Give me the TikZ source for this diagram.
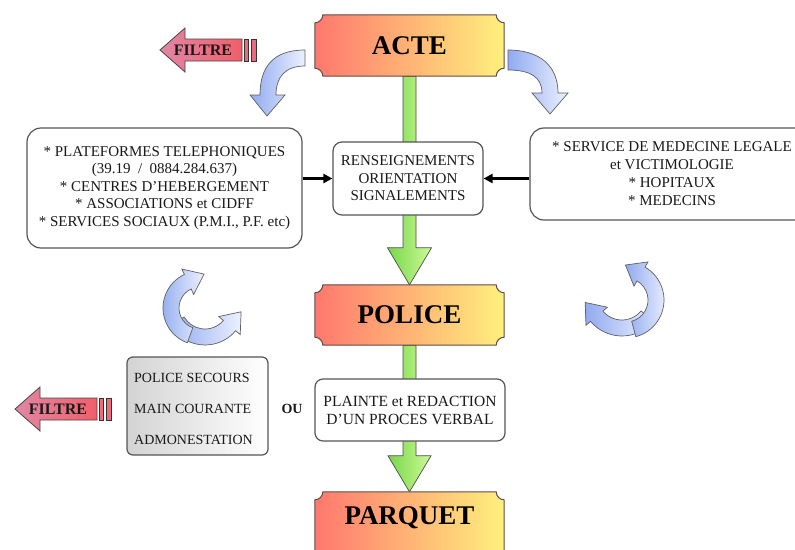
\documentclass[tikz,border=0pt]{standalone}
\usepackage{fontspec}
\setmainfont{Liberation Serif}
\usetikzlibrary{calc,arrows.meta,backgrounds}
\definecolor{plaqueL}{RGB}{255,120,110}
\definecolor{plaqueM}{RGB}{255,185,120}
\definecolor{plaqueR}{RGB}{255,240,125}
\definecolor{greenL}{RGB}{120,215,75}
\definecolor{greenR}{RGB}{205,250,150}
\definecolor{blueD}{RGB}{145,170,240}
\definecolor{blueL}{RGB}{236,241,255}
\definecolor{pinkH}{RGB}{225,135,165}
\definecolor{redB}{RGB}{240,95,105}
\definecolor{boxline}{RGB}{85,85,85}
\definecolor{txt}{RGB}{25,25,25}
\newcommand\plaquepath[1]{($(#1.north west)+(8,0)$) -- ($(#1.north east)+(-8,0)$) arc[start angle=180,end angle=90,radius=8] -- ($(#1.south east)+(0,-8)$) arc[start angle=270,end angle=180,radius=8] -- ($(#1.south west)+(8,0)$) arc[start angle=0,end angle=-90,radius=8] -- ($(#1.north west)+(0,8)$) arc[start angle=90,end angle=0,radius=8] -- cycle}
% curl arrow: cx, cy, mid radius, half width, start angle, end angle, direction (+90/-90)
\newcommand\curlarrow[7]{%
  \pgfmathsetmacro\crO{#3+#4}\pgfmathsetmacro\crI{#3-#4}%
  \pgfmathsetmacro\crHo{#3+14}\pgfmathsetmacro\crHi{#3-14}%
  \pgfmathsetmacro\crT{#6+#7}%
  \coordinate (cc) at (#1,#2);
  \path[bluecurl] ($(cc)+(#5:\crO)$) arc[start angle=#5,end angle=#6,radius=\crO]
    -- ($(cc)+(#6:\crHo)$) -- ($(cc)+(#6:#3)+(\crT:18)$) -- ($(cc)+(#6:\crHi)$)
    -- ($(cc)+(#6:\crI)$) arc[start angle=#6,end angle=#5,radius=\crI] -- cycle;}
\newcommand\filtreshape[2]{%
  \begin{scope}[shift={(#1,#2)}]
    \path[filtrefill] (0,0) -- (25,-22) -- (25,-11) -- (82,-11) -- (82,11) -- (25,11) -- (25,22) -- cycle;
    \path[filtrebar] (84,-11) rectangle (88,11);
    \path[filtrebar] (91,-11) rectangle (96,11);
  \end{scope}}
\begin{document}
\begin{tikzpicture}[x=1pt,y=-1pt,
  box/.style={draw=boxline, line width=1.2pt, fill=white, rounded corners=#1, align=center,
    text=txt, font=\fontsize{15}{17.5}\selectfont, inner sep=0pt},
  box/.default=8pt,
  bodytext/.style={text=txt, font=\fontsize{14}{16}\selectfont, inner sep=0pt},
  plaque/.style={inner sep=0pt, font=\fontsize{27}{30}\selectfont\bfseries, text=black},
  plaquefill/.style={left color=plaqueL, middle color=plaqueM, right color=plaqueR,
    draw={rgb,255:red,95;green,75;blue,75}, line width=1pt},
  greenarrow/.style={left color=greenL, right color=greenR, draw=gray!60!black, line width=0.7pt},
  bluecurl/.style={left color=blueD, right color=blueL, draw=gray!75!black, line width=0.7pt},
  filtrefill/.style={left color=pinkH, right color=redB, draw=gray!55!black, line width=0.8pt},
  filtrebar/.style={fill=redB!70!pinkH, draw=gray!40!black, line width=0.8pt},
  filtretext/.style={font=\fontsize{16}{18}\selectfont\bfseries, text=black!90, inner sep=0pt},
  conn/.style={-{Triangle[length=9pt,width=9pt]}, line width=2.6pt, black}]
\useasboundingbox (0,0) rectangle (795,549);

% plaques (text)
\node[plaque, minimum width=189pt, minimum height=61pt] (acte) at (409.5,45.5) {ACTE};
\node[plaque, minimum width=189pt, minimum height=60pt] (police) at (409.5,315) {POLICE};
\node[plaque, minimum width=189pt, minimum height=52pt] (parquet) at (409.5,518) {PARQUET};
\node[inner sep=0pt, minimum width=189pt, minimum height=73pt] (parquetbox) at (409.5,528.5) {};

% boxes
\node[box=14pt, minimum width=275pt, minimum height=120pt] (left) at (164.5,188)
  {* PLATEFORMES TELEPHONIQUES\\(39.19 \ / \ 0884.284.637)\\* CENTRES D'HEBERGEMENT\\* ASSOCIATIONS et CIDFF\\* SERVICES SOCIAUX (P.M.I., P.F. etc)};
\node[box=9pt, minimum width=150pt, minimum height=73pt] (mid) at (408,178.5)
  {RENSEIGNEMENTS\\ORIENTATION\\SIGNALEMENTS};
\node[box=14pt, minimum width=284pt, minimum height=92pt, font=\fontsize{15}{18}\selectfont] (right) at (672,174)
  {* SERVICE DE MEDECINE LEGALE\\et VICTIMOLOGIE\\* HOPITAUX\\* MEDECINS};
\node[box=6pt, minimum width=141pt, minimum height=98pt, left color=black!17, right color=white] (secours) at (197.5,406) {};
\node[bodytext, anchor=west] (ps1) at (134,378) {POLICE SECOURS};
\node[bodytext, anchor=west] (ps2) at (134,409) {MAIN COURANTE};
\node[bodytext, anchor=west] (ps3) at (134,440) {ADMONESTATION};
\node[font=\fontsize{14}{16}\selectfont\bfseries, text=txt] (ou) at (292,409) {OU};
\node[box=8pt, minimum width=190pt, minimum height=62pt, font=\fontsize{15.5}{18}\selectfont] (plainte) at (410,410)
  {PLAINTE et REDACTION\\D'UN PROCES VERBAL};

% FILTRE labels
\node[filtretext] (f1) at (203,50) {FILTRE};
\node[filtretext] (f2) at (58,409) {FILTRE};

% connectors
\draw[conn] (mid.west -| left.east) -- (mid.west);
\draw[conn] (mid.east -| right.west) -- (mid.east);

\begin{pgfonlayer}{background}
  \fill[white] (0,0) rectangle (795,549);
  % green arrows
  \path[greenarrow] ($(acte.south)+(-6.5,0)$) -- ($(police.north)+(-6.5,-37)$) -- ($(police.north)+(-22,-37)$)
    -- (police.north) -- ($(police.north)+(22,-37)$) -- ($(police.north)+(6.5,-37)$) -- ($(acte.south)+(6.5,0)$) -- cycle;
  \path[greenarrow] ($(police.south)+(-6.5,0)$) -- ($(parquetbox.north)+(-6.5,-36)$) -- ($(parquetbox.north)+(-21.5,-36)$)
    -- (parquetbox.north) -- ($(parquetbox.north)+(21.5,-36)$) -- ($(parquetbox.north)+(6.5,-36)$) -- ($(police.south)+(6.5,0)$) -- cycle;
  % plaques
  \path[plaquefill] \plaquepath{acte};
  \path[plaquefill] \plaquepath{police};
  \path[plaquefill] \plaquepath{parquetbox};
  % curved arrows from ACTE
  \path[bluecurl] (305,50) .. controls (272,50) and (260,68) .. (260,95) -- (250,95) -- (267,116)
    -- (285,95) -- (276,95) .. controls (276,77) and (285,66) .. (305,66) -- cycle;
  \path[bluecurl] (508,50) .. controls (540,50) and (558,66) .. (558,93) -- (568,93)
    -- (550,114) -- (532,93) -- (542,93) .. controls (542,77) and (530,70) .. (508,70) -- cycle;
  % circular arrows
  \curlarrow{622}{295}{33}{8}{40}{140}{90}
  \curlarrow{626}{300}{30}{8}{75}{-60}{-90}
  \curlarrow{205}{305}{32}{8}{150}{40}{-90}
  \curlarrow{200}{308}{29}{8}{110}{245}{90}
  % filtre arrows
  \filtreshape{160}{50}
  \filtreshape{15}{409}
\end{pgfonlayer}
\end{tikzpicture}
\end{document}
